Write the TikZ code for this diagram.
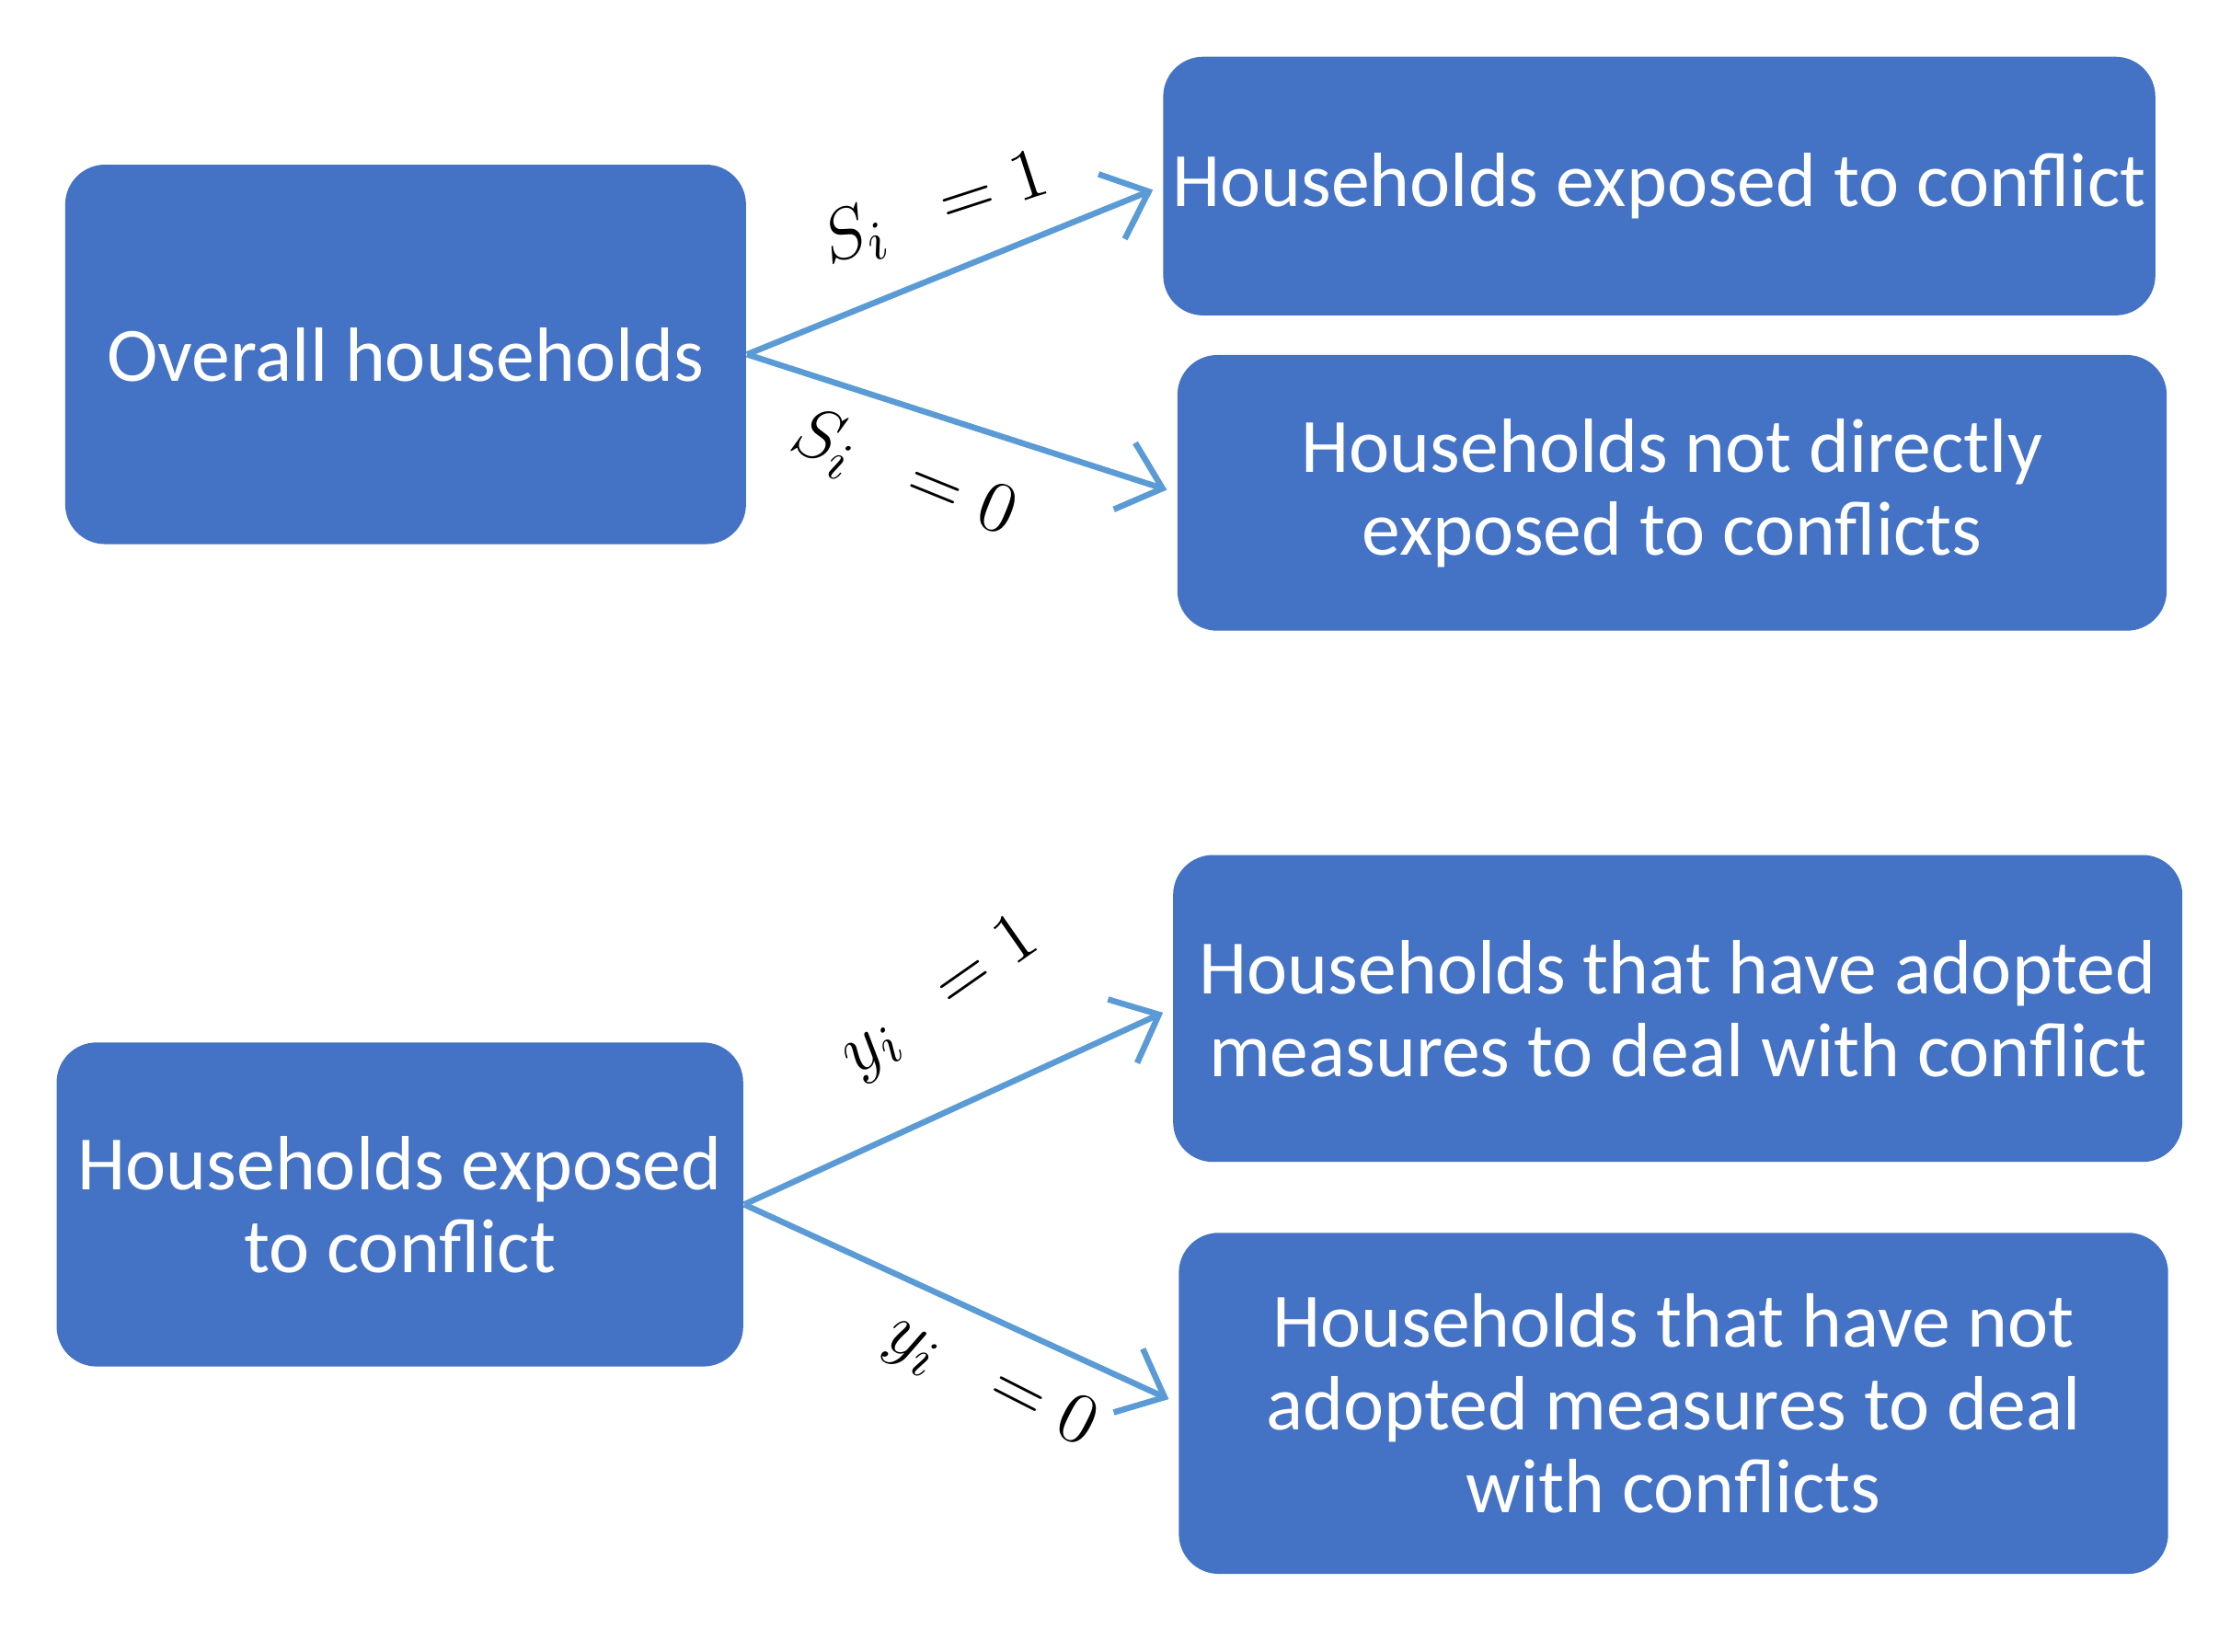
\documentclass[tikz,border=0pt]{standalone}
\usepackage{fontspec}
\setmainfont{Carlito}
\usepackage{tikz}
\usetikzlibrary{arrows.meta,
                positioning}
\definecolor{boxblue}{HTML}{4472C4}
\definecolor{arrowblue}{HTML}{5B9BD5}
\tikzset{
        box/.style={fill=boxblue, rounded corners=8pt, text=white, align=center,
                    inner sep=0pt, font=\fontsize{15.4}{16.6}\selectfont},
        myarrow/.style={-{Straight Barb[length=8pt,width=14pt]}, draw=arrowblue,
                        line width=1.2pt, shorten >=2pt},
        lab/.style={font=\fontsize{15}{18}\selectfont},
 }
\begin{document}
\begin{tikzpicture}[x=0.01cm, y=-0.01cm]
    \useasboundingbox (0,0) rectangle (1562,1163);
    \node[box, minimum width=4.79cm, minimum height=2.67cm] (a) at (285.5,249.5)
         {Overall households};
    \node[box, minimum width=6.98cm, minimum height=1.82cm] (b) at (1168,131)
         {Households exposed to conflict};
    \node[box, minimum width=6.96cm, minimum height=1.94cm] (c) at (1177,347)
         {Households not directly\\exposed to conflicts};
    \node[box, minimum width=4.83cm, minimum height=2.28cm] (d) at (281.5,848)
         {Households exposed\\to conflict};
    \node[box, minimum width=7.10cm, minimum height=2.16cm] (e) at (1181,710)
         {Households that have adopted\\measures to deal with conflict};
    \node[box, minimum width=6.96cm, minimum height=2.40cm] (f) at (1178,988)
         {Households that have not\\adopted measures to deal\\with conflicts};

    \draw[myarrow] (a.east) -- (b.west);
    \draw[myarrow] (a.east) -- (c.west);
    \draw[myarrow] (d.east) -- (e.west);
    \draw[myarrow] (d.east) -- (f.west);

    \node[lab, rotate=18] (s1) at (658,148) {$S_i\;\; = 1$};
    \node[lab, rotate=-22] (s0) at (636,334) {$S_i\;\; = 0$};
    \node[lab, rotate=35] (y1) at (662,703) {$y_i\;\; = 1$};
    \node[lab, rotate=-27] (y0) at (697,973) {$y_i\;\; = 0$};
\end{tikzpicture}
\end{document}
